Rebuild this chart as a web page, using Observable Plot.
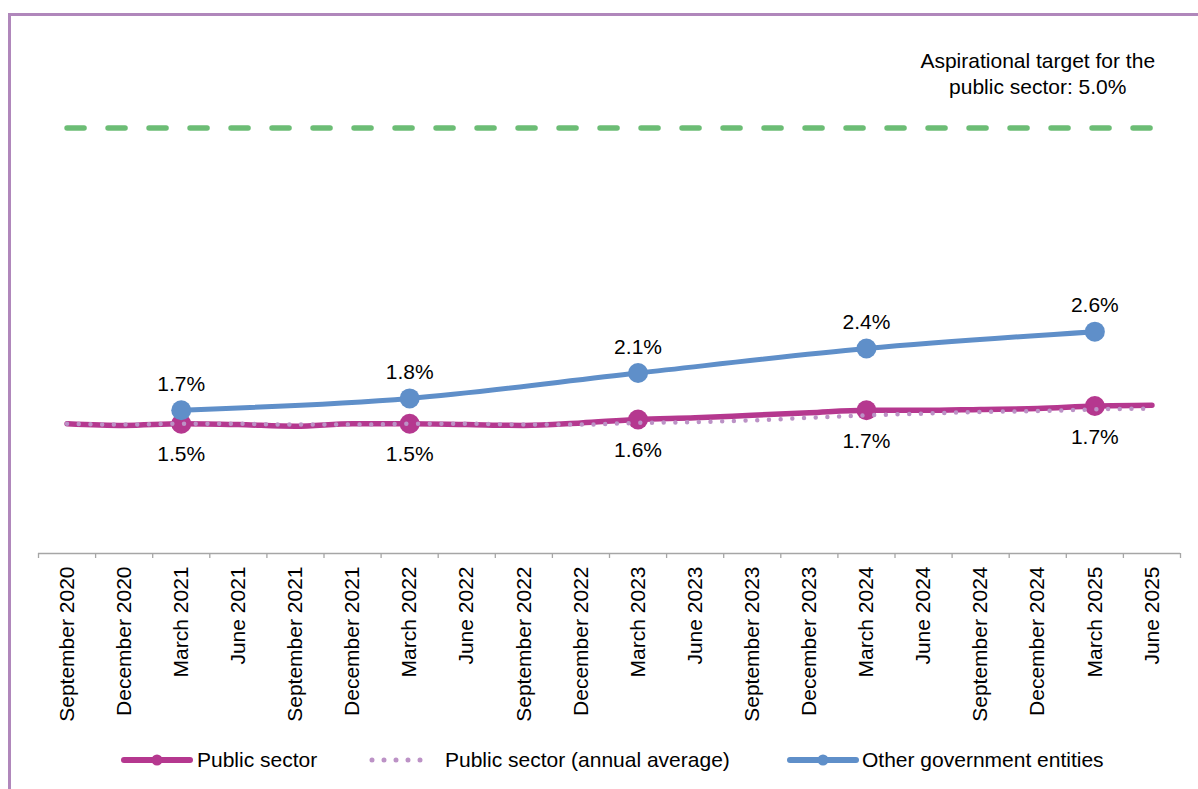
<!DOCTYPE html>
<html><head><meta charset="utf-8">
<script src="https://cdn.jsdelivr.net/npm/d3@7"></script>
<script src="https://cdn.jsdelivr.net/npm/@observablehq/plot@0.6"></script>
<style>
html,body{margin:0;padding:0;background:#fff;width:1198px;height:789px;overflow:hidden;font-family:"Liberation Sans",Arial,sans-serif;}
#chart{position:absolute;left:0;top:0;}
#frame{position:absolute;left:8px;top:13px;width:1300px;height:900px;border-left:3.5px solid #B087BB;border-top:3px solid #B087BB;pointer-events:none;}
#legend{position:absolute;left:0;top:740px;width:1198px;height:49px;}
.sw{position:absolute;top:0;}
.lt{position:absolute;top:0;height:40px;line-height:40px;font-size:21px;color:#000;white-space:nowrap;}
</style></head><body>
<div id="chart"></div>
<div id="frame"></div>
<div id="legend"></div>
<script>
// ---- data ----
const categories = [
  "September 2020","December 2020","March 2021","June 2021",
  "September 2021","December 2021","March 2022","June 2022",
  "September 2022","December 2022","March 2023","June 2023",
  "September 2023","December 2023","March 2024","June 2024",
  "September 2024","December 2024","March 2025","June 2025"
];
const publicSector = [1.50,1.48,1.50,1.49,1.47,1.50,1.50,1.49,1.48,1.51,1.55,1.57,1.60,1.63,1.66,1.66,1.67,1.68,1.71,1.72];
const publicSectorAvg = [1.50,1.49,1.50,1.50,1.49,1.49,1.50,1.50,1.49,1.49,1.51,1.52,1.54,1.57,1.60,1.62,1.64,1.65,1.67,1.68];
const otherGovernment = [null,null,1.66,null,null,null,1.80,null,null,null,2.10,null,null,null,2.39,null,null,null,2.59,null];
const target = 5.0;
const seriesNames = ["Public sector","Public sector (annual average)","Other government entities"];

// ---- style ----
const cMagenta = "#B5388F";
const cLilac = "#BC92C6";
const cBlue = "#5F8FC9";
const cGreen = "#6CBD75";
const cAxis = "#A6A6A6";
const font = "'Liberation Sans', Arial, sans-serif";

const N = categories.length;
const rows = categories.map((c, i) => ({
  x: i + 0.5, cat: c, pub: publicSector[i], avg: publicSectorAvg[i],
  other: otherGovernment[i], target
}));
const marchRows = rows.filter(d => d.cat.startsWith("March"));
const otherRows = rows.filter(d => d.other != null);
const yMin = -0.0355;

const chart = Plot.plot({
  width: 1198, height: 740,
  marginLeft: 38, marginRight: 18, marginTop: 43, marginBottom: 187,
  x: {type: "linear", domain: [0, N], label: null},
  y: {domain: [yMin, 6], axis: null, label: null},
  style: {fontFamily: font, fontSize: "21px", color: "#000", background: "none", overflow: "visible"},
  marks: [
    Plot.ruleY([yMin], {stroke: cAxis, strokeWidth: 1.3}),
    Plot.axisX(d3.range(N + 1), {tickSize: 5, tickFormat: () => "", stroke: cAxis, strokeWidth: 1.3}),
    Plot.axisX(rows.map(d => d.x), {
      tickSize: 0, tickPadding: 13, tickRotate: -90, fontSize: 21, fill: "#000",
      tickFormat: v => categories[Math.floor(v)]
    }),
    Plot.line(rows, {x: "x", y: "target", stroke: cGreen, strokeWidth: 5.5, strokeDasharray: "17 24", strokeLinecap: "round"}),
    Plot.text([{x: 17.5, y: 5.65}], {
      x: "x", y: "y",
      text: () => `Aspirational target for the\npublic sector: ${target.toFixed(1)}%`,
      fontSize: 21, lineHeight: 1.24, textAnchor: "middle", fill: "#000"
    }),
    Plot.line(rows, {x: "x", y: "pub", stroke: cMagenta, strokeWidth: 5.5, curve: "monotone-x", strokeLinecap: "round"}),
    Plot.dot(marchRows, {x: "x", y: "pub", r: 10, fill: cMagenta}),
    Plot.line(rows, {x: "x", y: "avg", stroke: cLilac, strokeWidth: 4.5, strokeDasharray: "0 11.7", strokeLinecap: "round", curve: "monotone-x"}),
    Plot.line(otherRows, {x: "x", y: "other", stroke: cBlue, strokeWidth: 5, curve: "monotone-x"}),
    Plot.dot(otherRows, {x: "x", y: "other", r: 10, fill: cBlue}),
    Plot.text(otherRows, {x: "x", y: "other", text: d => d.other.toFixed(1) + "%", dy: -26, fontSize: 21, fill: "#000"}),
    Plot.text(marchRows, {x: "x", y: "pub", text: d => d.pub.toFixed(1) + "%", dy: 31, fontSize: 21, fill: "#000"})
  ]
});
document.getElementById("chart").appendChild(chart);

// ---- legend ----
const legend = document.getElementById("legend");
const items = [
  {name: seriesNames[0], color: cMagenta, type: "marker", sx: 121, tx: 197},
  {name: seriesNames[1], color: cLilac, type: "dots", sx: 366, tx: 445},
  {name: seriesNames[2], color: cBlue, type: "marker", sx: 787, tx: 862}
];
for (const it of items) {
  let svg;
  if (it.type === "marker") {
    svg = `<svg class="sw" style="left:${it.sx}px" width="72" height="40"><line x1="3" x2="69" y1="20" y2="20" stroke="${it.color}" stroke-width="6" stroke-linecap="round"/><circle cx="36" cy="20" r="5.5" fill="${it.color}"/></svg>`;
  } else {
    svg = `<svg class="sw" style="left:${it.sx}px" width="72" height="40"><line x1="6" x2="66" y1="20" y2="20" stroke="${it.color}" stroke-width="5" stroke-dasharray="0 12" stroke-linecap="round"/></svg>`;
  }
  legend.insertAdjacentHTML("beforeend", svg + `<div class="lt" style="left:${it.tx}px">${it.name}</div>`);
}
</script>
</body></html>
